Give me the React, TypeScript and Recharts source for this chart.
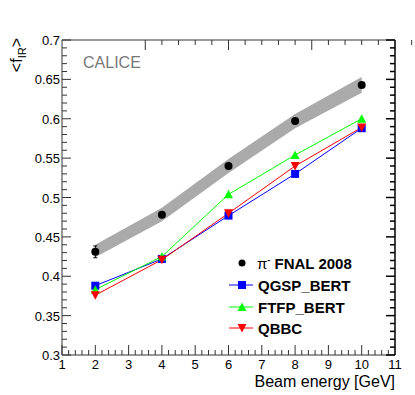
import { ComposedChart, XAxis, YAxis, Line, Area, ErrorBar, ReferenceLine } from 'recharts';

const energies = [2, 4, 6, 8, 10];
const fnal = [0.431, 0.478, 0.54, 0.597, 0.643];
const fnalErr = [0.0075, 0.003, 0.003, 0.003, 0.003];
const systLow = [0.424, 0.47, 0.531, 0.588, 0.633];
const systHigh = [0.44, 0.487, 0.549, 0.606, 0.653];
const qgspBert = [0.388, 0.422, 0.477, 0.53, 0.588];
const ftfpBert = [0.383, 0.425, 0.504, 0.554, 0.6];
const qbbc = [0.376, 0.421, 0.48, 0.54, 0.589];

const xMajor = [1, 2, 3, 4, 5, 6, 7, 8, 9, 10, 11];
const yMajor = [0.3, 0.35, 0.4, 0.45, 0.5, 0.55, 0.6, 0.65, 0.7];
const yLabels = ['0.3', '0.35', '0.4', '0.45', '0.5', '0.55', '0.6', '0.65', '0.7'];

const legendNames = ['FNAL 2008', 'QGSP_BERT', 'FTFP_BERT', 'QBBC'];

const data = energies.map((e, i) => ({
  e,
  fnal: fnal[i],
  err: fnalErr[i],
  syst: [systLow[i], systHigh[i]],
  qgsp: qgspBert[i],
  ftfp: ftfpBert[i],
  qbbc: qbbc[i],
}));

// minor ticks: 5 subdivisions per major step
const xTicks: number[] = [];
for (let i = 0; i <= 50; i++) xTicks.push(Math.round((1 + i * 0.2) * 100) / 100);
const yTicks: number[] = [];
for (let i = 0; i <= 40; i++) yTicks.push(Math.round((0.3 + i * 0.01) * 1000) / 1000);

const isMajorX = (v: number) => xMajor.some((m) => Math.abs(m - v) < 1e-6);
const majorYIndex = (v: number) => yMajor.findIndex((m) => Math.abs(m - v) < 1e-6);

const W = 415;
const H = 395;
const margin = { top: 39, right: 20, bottom: 39, left: 61 };
// left axis is 1px wide, so the frame spans left+1 .. W-right
const PLOT_W = W - margin.left - 1 - margin.right;

const FONT = '"Liberation Sans", Arial, Helvetica, sans-serif';
const AXIS = '#333';

const BottomTick = (props: any) => {
  const { x, y, payload } = props;
  const major = isMajorX(payload.value);
  return (
    <g>
      <line x1={x} x2={x} y1={y} y2={y - (major ? 10 : 5)} stroke={AXIS} />
      {major && (
        <text x={x} y={y + 14} textAnchor="middle" fontSize={13} fontFamily={FONT} fill="#000">
          {payload.value}
        </text>
      )}
    </g>
  );
};

const TopTick = (props: any) => {
  const { x, y, payload } = props;
  const major = isMajorX(payload.value);
  return <line x1={x} x2={x} y1={y} y2={y + (major ? 10 : 5)} stroke={AXIS} />;
};

// left ticks + labels, and the mirrored ticks on the right edge of the frame
const LeftTick = (props: any) => {
  const { x, y, payload } = props;
  const idx = majorYIndex(payload.value);
  const len = idx >= 0 ? 9 : 5;
  const xr = x + PLOT_W;
  return (
    <g>
      <line x1={x} x2={x + len} y1={y} y2={y} stroke={AXIS} />
      <line x1={xr} x2={xr - len} y1={y} y2={y} stroke="#000" strokeWidth={1.5} />
      {idx >= 0 && (
        <text x={x - 2} y={y + 5} textAnchor="end" fontSize={13} fontFamily={FONT} fill="#000">
          {yLabels[idx]}
        </text>
      )}
    </g>
  );
};

const Square = ({ cx, cy, color }: any) => <rect x={cx - 4} y={cy - 4} width={8} height={8} fill={color} />;
const TriUp = ({ cx, cy, color }: any) => (
  <polygon points={`${cx - 4.5},${cy + 4} ${cx + 4.5},${cy + 4} ${cx},${cy - 4.5}`} fill={color} />
);
const TriDown = ({ cx, cy, color }: any) => (
  <polygon points={`${cx - 4.5},${cy - 4} ${cx + 4.5},${cy - 4} ${cx},${cy + 4.5}`} fill={color} />
);
const Dot = ({ cx, cy }: any) => <circle cx={cx} cy={cy} r={4} fill="#000" />;

export default function App() {
  return (
    <div style={{ position: 'absolute', left: 0, top: 0, width: W, height: H, background: '#fff' }}>
      <ComposedChart width={W} height={H} data={data} margin={margin}>
        <XAxis
          dataKey="e"
          type="number"
          domain={[1, 11]}
          ticks={xTicks}
          interval={0}
          height={1}
          tickSize={0}
          tickMargin={0}
          tickLine={false}
          stroke={AXIS}
          tick={<BottomTick />}
          allowDataOverflow
        />
        <XAxis
          xAxisId="top"
          orientation="top"
          type="number"
          domain={[1, 11]}
          ticks={xTicks}
          interval={0}
          height={1}
          tickSize={0}
          tickMargin={0}
          tickLine={false}
          stroke={AXIS}
          tick={<TopTick />}
          allowDataOverflow
        />
        <YAxis
          type="number"
          domain={[0.3, 0.7]}
          ticks={yTicks}
          interval={0}
          width={1}
          tickSize={0}
          tickMargin={0}
          tickLine={false}
          stroke={AXIS}
          tick={<LeftTick />}
          allowDataOverflow
        />
        <ReferenceLine x={11} stroke="#000" strokeWidth={1.5} ifOverflow="visible" />
        <Area
          dataKey="syst"
          type="linear"
          stroke="none"
          fill="#aaaaaa"
          fillOpacity={1}
          isAnimationActive={false}
        />
        <Line
          dataKey="qgsp"
          type="linear"
          stroke="#0000ff"
          strokeWidth={1}
          dot={(p: any) => <Square key={p.index} cx={p.cx} cy={p.cy} color="#0000ff" />}
          isAnimationActive={false}
        />
        <Line
          dataKey="ftfp"
          type="linear"
          stroke="#00ff00"
          strokeWidth={1}
          dot={(p: any) => <TriUp key={p.index} cx={p.cx} cy={p.cy} color="#00ff00" />}
          isAnimationActive={false}
        />
        <Line
          dataKey="qbbc"
          type="linear"
          stroke="#ff0000"
          strokeWidth={1}
          dot={(p: any) => <TriDown key={p.index} cx={p.cx} cy={p.cy} color="#ff0000" />}
          isAnimationActive={false}
        />
        <Line
          dataKey="fnal"
          type="linear"
          stroke="none"
          dot={(p: any) => <Dot key={p.index} cx={p.cx} cy={p.cy} />}
          isAnimationActive={false}
        >
          <ErrorBar dataKey="err" direction="y" width={2} stroke="#000" strokeWidth={1} />
        </Line>
      </ComposedChart>

      <svg width={W} height={H} style={{ position: 'absolute', left: 0, top: 0, pointerEvents: 'none' }}>
        <text x={83} y={68} fontSize={16} fontFamily={FONT} fill="#777">
          CALICE
        </text>
        <text
          transform="translate(22,38) rotate(-90)"
          textAnchor="end"
          fontSize={16}
          fontFamily={FONT}
          fill="#000"
        >
          {'<f'}
          <tspan fontSize={11} dy={4}>IR</tspan>
          <tspan dy={-4}>{'>'}</tspan>
        </text>
        <text x={395} y={387} textAnchor="end" fontSize={16} fontFamily={FONT} fill="#000">
          Beam energy [GeV]
        </text>

        <g fontFamily={FONT} fontWeight="bold" fontSize={15} fill="#000">
          <circle cx={242} cy={263} r={3.5} fill="#000" />
          <text x={257} y={268.5}>
            <tspan fontWeight="normal">π</tspan>
            <tspan fontSize={9} dy={-6}>-</tspan>
            <tspan dy={6}> {legendNames[0]}</tspan>
          </text>

          <line x1={229} x2={253} y1={285} y2={285} stroke="#0000ff" />
          <Square cx={242} cy={285} color="#0000ff" />
          <text x={258} y={290.5}>{legendNames[1]}</text>

          <line x1={229} x2={253} y1={307} y2={307} stroke="#00ff00" />
          <TriUp cx={242} cy={307} color="#00ff00" />
          <text x={258} y={312.5}>{legendNames[2]}</text>

          <line x1={229} x2={253} y1={328} y2={328} stroke="#ff0000" />
          <TriDown cx={242} cy={328} color="#ff0000" />
          <text x={258} y={333.5}>{legendNames[3]}</text>
        </g>
      </svg>
    </div>
  );
}
